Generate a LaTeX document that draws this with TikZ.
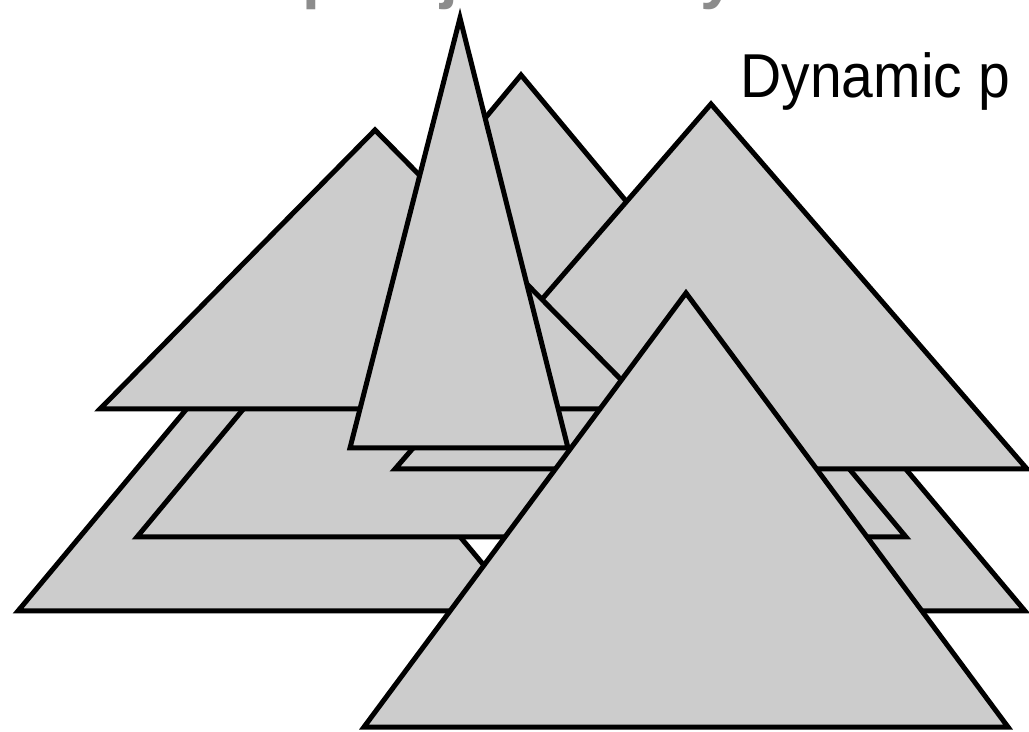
\documentclass[tikz,border=0pt]{standalone}
\usepackage{fontspec}
\setmainfont{Liberation Sans}
\newfontfamily\slidefont[FakeStretch=0.92]{Liberation Sans}
\usetikzlibrary{positioning}

\begin{document}
\begin{tikzpicture}[x=0.5pt,y=-0.5pt]
\tikzset{slab/.style={draw=black,fill=black!20,line width=2.5pt},
  caption/.style={font=\slidefont\fontsize{31}{37}\selectfont,inner sep=0pt,anchor=base west},
  ghost/.style={font=\fontsize{32}{38}\selectfont\bfseries,text=black!45,inner sep=0pt,anchor=base west}}
\useasboundingbox (0,0) rectangle (1029,732);
\clip (0,0) rectangle (1029,732);

% Heading of the slide, cut off at the top
\node[ghost] (head-p) at (302,-3) {p};
\node[ghost] (head-j) at (440,-3) {j};
\node[ghost] (head-y) at (700,-3) {y};

% Bottom layer
\draw[slab] (18,611) -- (270,309) -- (522,611) -- cycle;
\draw[slab] (521,611) -- (773,311) -- (1025,611) -- cycle;

% Middle layers
\draw[slab] (137,537) -- (521,75) -- (906,537) -- cycle;
\draw[slab] (395,469) -- (711,104) -- (1027,469) -- cycle;
\draw[slab] (100,409) -- (375,130) -- (650,409) -- cycle;

% Spike
\draw[slab] (350,448) -- (460,18) -- (568,448) -- cycle;

% Front
\draw[slab] (364,727) -- (686,293) -- (1008,727) -- cycle;

\node[caption] (dyn) at (740,98) {Dynamic p};
\end{tikzpicture}
\end{document}
